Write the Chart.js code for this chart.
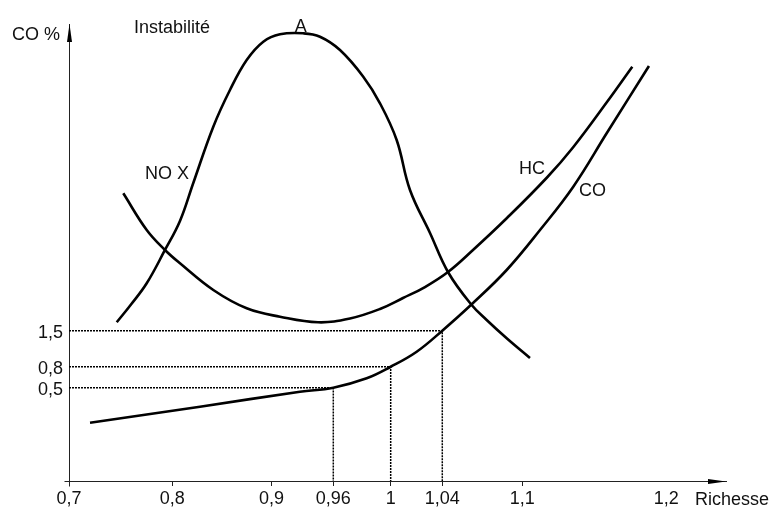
<!DOCTYPE html>
<html><head><meta charset="utf-8">
<script src="https://cdn.jsdelivr.net/npm/chart.js@4/dist/chart.umd.min.js"></script>
<style>html,body{margin:0;padding:0;background:#fff;}canvas{display:block;}</style>
</head><body>
<canvas id="c" width="771" height="509"></canvas>
<script>
// Schematic axis units (the original diagram is not drawn to a linear scale)
const xTickPos    = [0, 17.3, 33.9, 44.25, 53.86, 62.5, 75.9, 100];
const xTickLabels = ['0,7', '0,8', '0,9', '0,96', '1', '1,04', '1,1', '1,2'];
const yTickPos    = [20.42, 25.0, 32.9];
const yTickLabels = ['0,5', '0,8', '1,5'];

// Curves (in the same schematic units)
const noxX = [7.99, 10.38, 13.01, 16.07, 18.58, 20.81, 24.16, 26.95, 29.75, 32.53, 35.33, 39.23, 42.02, 45.37, 49.27, 52.07, 54.86, 57.09, 60.44, 63.50, 67.42, 69.93, 73.28, 77.18];
const noxY = [34.73, 38.62, 43.26, 50.55, 56.89, 65.21, 77.53, 85.56, 92.12, 96.13, 97.75, 97.96, 97.22, 94.31, 88.47, 82.65, 74.62, 63.68, 54.27, 45.62, 38.51, 35.23, 31.23, 26.91];
const hcX  = [9.09, 13.01, 16.07, 18.58, 24.16, 29.75, 35.33, 41.69, 47.05, 52.07, 55.92, 59.60, 63.45, 67.64, 73.33, 80.03, 84.38, 90.07, 94.31];
const hcY  = [62.95, 54.92, 50.55, 47.64, 41.79, 37.79, 35.95, 34.73, 35.56, 37.64, 40.04, 42.45, 45.73, 50.55, 57.55, 66.41, 72.98, 82.93, 90.66];
const coX  = [3.52, 21.93, 38.67, 44.25, 49.84, 53.86, 58.21, 62.5, 67.47, 73.28, 78.86, 84.43, 90.02, 97.10];
const coY  = [12.76, 16.26, 19.54, 20.42, 22.47, 25.0, 28.29, 32.9, 38.73, 46.17, 54.92, 64.40, 76.08, 90.81];

// Reading guides: CO at richesse 0,96 / 1 / 1,04
const guideX = [xTickPos[3], xTickPos[4], xTickPos[5]];
const guideY = [yTickPos[0], yTickPos[1], yTickPos[2]];

const textLabels = [
  {text: 'CO %',        x: -1.51, y: 96.5,  align: 'right'},
  {text: 'Instabilité', x: 10.88, y: 98.03, align: 'left'},
  {text: 'A',           x: 38.81, y: 98.25, align: 'center'},
  {text: 'NO X',        x: 12.72, y: 66.08, align: 'left'},
  {text: 'HC',          x: 75.34, y: 67.11, align: 'left'},
  {text: 'CO',          x: 85.38, y: 62.43, align: 'left'},
  {text: 'Richesse',    x: 104.8, y: -5.25, align: 'left'}
];

const FONT = "'Liberation Sans', Arial, sans-serif";
const zip = (xs, ys) => xs.map((v, i) => ({x: v, y: ys[i]}));

const curveStyle = {showLine: true, pointRadius: 0, borderColor: '#000', borderWidth: 2.6,
  fill: false, tension: 0.4, clip: false, borderCapStyle: 'butt'};
const guideStyle = {showLine: true, pointRadius: 0, borderColor: '#000', borderWidth: 1.5,
  borderDash: [2, 1], fill: false, tension: 0, clip: false};

const datasets = [];
guideX.forEach((gx, i) => {
  datasets.push(Object.assign({label: 'guide' + i,
    data: [{x: xTickPos[0], y: guideY[i]}, {x: gx, y: guideY[i]}, {x: gx, y: 0}]}, guideStyle));
});
datasets.push(Object.assign({label: 'NO X', data: zip(noxX, noxY)}, curveStyle));
datasets.push(Object.assign({label: 'HC', data: zip(hcX, hcY)}, curveStyle));
datasets.push(Object.assign({label: 'CO', data: zip(coX, coY)}, curveStyle));

const decor = {
  id: 'decor',
  afterDraw(chart) {
    const {ctx, scales: {x, y}} = chart;
    const ax = Math.round(x.getPixelForValue(0)) + 0.5;
    const ay = Math.round(y.getPixelForValue(0)) + 0.5;
    const top = chart.chartArea.top, right = chart.chartArea.right;
    ctx.save();
    ctx.strokeStyle = '#222'; ctx.lineWidth = 1;
    ctx.beginPath();
    ctx.moveTo(ax - 5, ay); ctx.lineTo(ax, ay);
    ctx.moveTo(ax, ay); ctx.lineTo(ax, ay + 5);
    ctx.stroke();
    ctx.fillStyle = '#000';
    ctx.beginPath();
    ctx.moveTo(ax, top); ctx.lineTo(ax - 2.5, top + 18); ctx.lineTo(ax + 2.5, top + 18); ctx.closePath();
    ctx.fill();
    ctx.beginPath();
    ctx.moveTo(right, ay); ctx.lineTo(right - 18, ay - 2.5); ctx.lineTo(right - 18, ay + 2.5); ctx.closePath();
    ctx.fill();
    ctx.fillStyle = '#111';
    ctx.font = '18px ' + FONT;
    ctx.textBaseline = 'alphabetic';
    textLabels.forEach(t => {
      ctx.textAlign = t.align;
      ctx.fillText(t.text, x.getPixelForValue(t.x), y.getPixelForValue(t.y));
    });
    ctx.restore();
  }
};

Chart.defaults.font.family = FONT;
Chart.defaults.font.size = 18;
Chart.defaults.color = '#111';

new Chart(document.getElementById('c'), {
  type: 'scatter',
  data: {datasets},
  options: {
    responsive: false, animation: false, devicePixelRatio: 1,
    layout: {padding: {top: 24, right: 45, left: 0, bottom: 0}},
    plugins: {legend: {display: false}, tooltip: {enabled: false}},
    scales: {
      x: {
        type: 'linear', min: 0, max: 110,
        afterFit: s => { s.height = 28; },
        afterBuildTicks: s => { s.ticks = xTickPos.map(v => ({value: v})); },
        ticks: {autoSkip: false, maxRotation: 0, padding: 2,
          callback: (v, i) => xTickLabels[i]},
        grid: {display: true, drawOnChartArea: false, drawTicks: true, tickLength: 5,
          color: '#222', tickColor: c => (c.tick && c.tick.value === 100) ? 'rgba(0,0,0,0)' : '#222'},
        border: {display: true, color: '#222', width: 1}
      },
      y: {
        type: 'linear', min: 0, max: 100,
        afterFit: s => { s.width = 69; },
        afterBuildTicks: s => { s.ticks = yTickPos.map(v => ({value: v})); },
        ticks: {autoSkip: false, padding: 6, labelOffset: 2,
          callback: (v, i) => yTickLabels[i]},
        grid: {display: false, drawTicks: false},
        border: {display: true, color: '#222', width: 1}
      }
    }
  },
  plugins: [decor]
});
</script>
</body></html>
